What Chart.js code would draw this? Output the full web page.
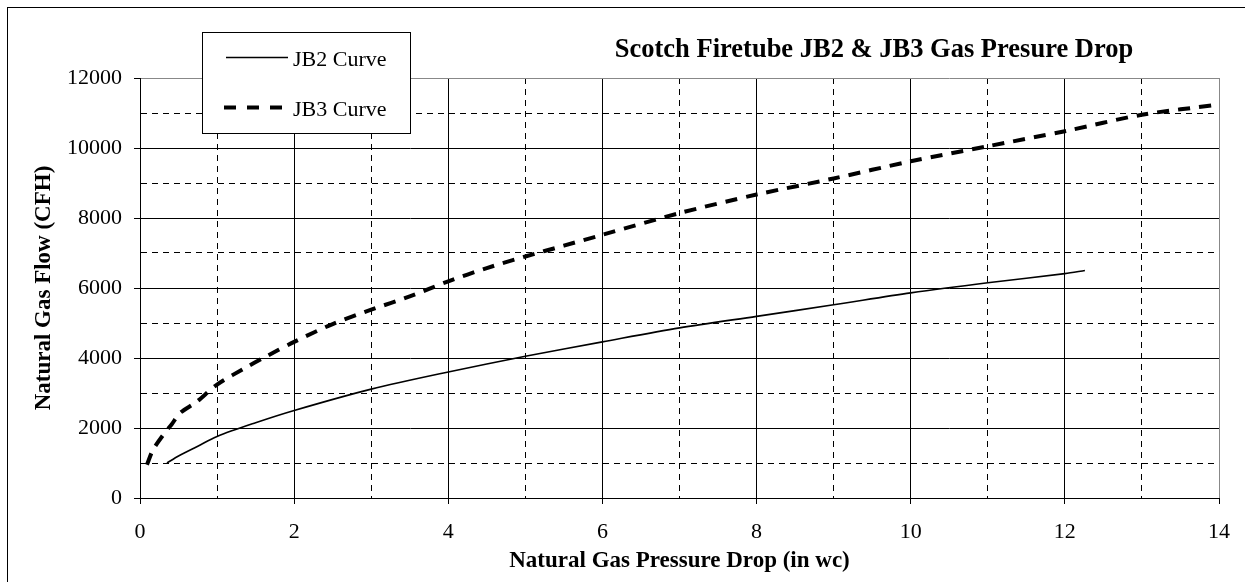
<!DOCTYPE html>
<html>
<head>
<meta charset="utf-8">
<script src="https://cdn.jsdelivr.net/npm/chart.js@4.4.1/dist/chart.umd.min.js"></script>
<style>
  body { margin: 0; background: #fff; }
  #wrap { width: 1245px; height: 582px; }
</style>
</head>
<body>
<div id="wrap"><canvas id="chart" width="1245" height="582"></canvas></div>
<script>
const titleText = "Scotch Firetube JB2 & JB3 Gas Presure Drop";
const xTitle = "Natural Gas Pressure Drop (in wc)";
const yTitle = "Natural Gas Flow (CFH)";
const seriesNames = ["JB2 Curve", "JB3 Curve"];

const jb2X = [0.35, 0.5, 0.75, 1, 1.5, 2, 3, 4, 5, 6, 7, 8, 9, 10, 11, 12, 12.26];
const jb2Y = [1000, 1200, 1480, 1760, 2150, 2500, 3110, 3600, 4050, 4460, 4860, 5190, 5520, 5860, 6150, 6410, 6500];

const jb3X = [0.09, 0.17, 0.32, 0.41, 0.52, 0.73, 1, 1.4, 1.6, 2, 2.5, 3, 3.5, 4, 4.5, 5, 5.5, 6, 7, 8, 9, 10, 11, 12, 13, 14];
const jb3Y = [950, 1380, 1860, 2100, 2430, 2740, 3240, 3760, 4000, 4460, 4970, 5380, 5760, 6190, 6570, 6900, 7210, 7520, 8140, 8670, 9130, 9620, 10050, 10480, 10950, 11240];

const xMax = 14, yMax = 12000;
const serif = '"Liberation Serif", "Times New Roman", serif';

const toPts = (xs, ys) => xs.map((x, i) => ({x, y: ys[i]}));

function isMinor(ctx, step) {
  if (!ctx.tick) return false;
  return Math.round(ctx.tick.value / step) % 2 === 1;
}

const frame = {
  id: "frame",
  beforeDraw(chart) {
    const c = chart.ctx;
    c.save();
    c.fillStyle = "#fff";
    c.fillRect(0, 0, chart.width, chart.height);
    c.strokeStyle = "#000";
    c.lineWidth = 1;
    c.strokeRect(7.5, 7.5, chart.width + 20, chart.height + 20);
    c.restore();
  },
  afterDraw(chart) {
    const c = chart.ctx;
    c.save();
    // title
    c.fillStyle = "#000";
    c.font = "bold 26.5px " + serif;
    c.textAlign = "center";
    c.textBaseline = "alphabetic";
    c.fillText(titleText, 874, 57);

    // legend box
    c.fillStyle = "#fff";
    c.fillRect(202, 32, 208, 101);
    c.strokeStyle = "#000";
    c.lineWidth = 1;
    c.strokeRect(202.5, 32.5, 208, 101);

    const ds = chart.data.datasets;
    c.strokeStyle = "#000";
    c.lineWidth = ds[0].borderWidth;
    c.setLineDash([]);
    c.beginPath(); c.moveTo(226, 57.5); c.lineTo(288, 57.5); c.stroke();

    c.lineWidth = ds[1].borderWidth;
    c.setLineDash([12, 11]);
    c.beginPath(); c.moveTo(224, 107.5); c.lineTo(282, 107.5); c.stroke();
    c.setLineDash([]);

    c.fillStyle = "#000";
    c.font = "22px " + serif;
    c.textAlign = "left";
    c.fillText(ds[0].label, 293, 66);
    c.fillText(ds[1].label, 293, 116);
    c.restore();
  }
};

new Chart(document.getElementById("chart"), {
  type: "line",
  data: {
    datasets: [
      {
        label: seriesNames[0],
        data: toPts(jb2X, jb2Y),
        borderColor: "#000",
        borderWidth: 1.6,
        pointRadius: 0,
        tension: 0.3,
        fill: false
      },
      {
        label: seriesNames[1],
        data: toPts(jb3X, jb3Y),
        borderColor: "#000",
        borderWidth: 4,
        borderDash: [12, 9],
        pointRadius: 0,
        tension: 0.3,
        fill: false
      }
    ]
  },
  options: {
    responsive: false,
    animation: false,
    devicePixelRatio: 1,
    layout: { padding: { left: 30, right: 19, top: 78, bottom: 7 } },
    plugins: {
      legend: { display: false },
      title: { display: false },
      tooltip: { enabled: false }
    },
    scales: {
      x: {
        type: "linear",
        min: 0,
        max: xMax,
        afterFit: s => { s.height = 77; },
        ticks: {
          stepSize: 1,
          autoSkip: false,
          maxRotation: 0,
          padding: 15,
          color: "#000",
          font: { family: serif, size: 22 },
          callback: v => (v % 2 === 0 ? v : "")
        },
        grid: {
          color: ctx => (ctx.tick && ctx.tick.value === xMax ? "#888" : "#000"),
          lineWidth: 1,
          tickLength: 6,
          tickColor: ctx => (isMinor(ctx, 1) ? "rgba(0,0,0,0)" : "#000"),
          borderDash: ctx => (isMinor(ctx, 1) ? [6, 5] : [])
        },
        border: {
          color: "#000",
          width: 1,
          dash: ctx => (isMinor(ctx, 1) ? [6, 5] : [])
        },
        title: {
          display: true,
          text: xTitle,
          color: "#000",
          padding: 0,
          font: { family: serif, size: 23, weight: "bold" }
        }
      },
      y: {
        min: 0,
        max: yMax,
        afterFit: s => { s.width = 110; },
        ticks: {
          stepSize: 1000,
          autoSkip: false,
          padding: 12,
          color: "#000",
          font: { family: serif, size: 22 },
          callback: v => (v % 2000 === 0 ? v : "")
        },
        grid: {
          color: ctx => (ctx.tick && ctx.tick.value === yMax ? "#888" : "#000"),
          lineWidth: 1,
          tickLength: 6,
          tickColor: ctx => (isMinor(ctx, 1000) ? "rgba(0,0,0,0)" : "#000"),
          borderDash: ctx => (isMinor(ctx, 1000) ? [6, 5] : [])
        },
        border: {
          color: "#000",
          width: 1,
          dash: ctx => (isMinor(ctx, 1000) ? [6, 5] : [])
        },
        title: {
          display: true,
          text: yTitle,
          color: "#000",
          padding: 0,
          font: { family: serif, size: 23, weight: "bold" }
        }
      }
    }
  },
  plugins: [frame]
});
</script>
</body>
</html>
